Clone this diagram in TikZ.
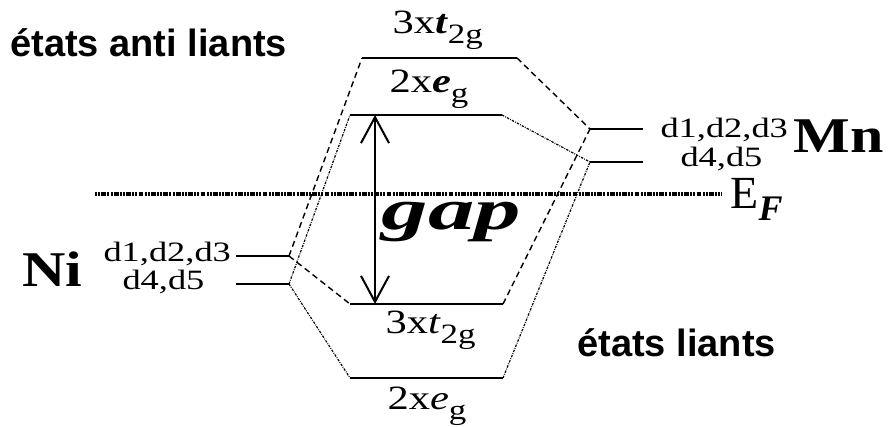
\documentclass[tikz,border=0pt]{standalone}
\usepackage{fontspec}
\setmainfont{Liberation Serif}
\setsansfont{Liberation Sans}
\usetikzlibrary{arrows.meta}

\tikzset{
    level/.style={line width=1.3pt},
    anti/.style={line width=0.7pt, dash pattern=on 3pt off 2pt},
    bond/.style={line width=0.6pt, dash pattern=on 1.2pt off 0.6pt on 0.4pt off 0.6pt},
    fermi/.style={line width=2.4pt, dash pattern=on 1pt off 0.6pt on 1pt off 0.6pt on 2.4pt off 0.6pt},
    lvllbl/.style={font=\fontsize{17}{18}\selectfont, xscale=1.25, anchor=base west, inner sep=0pt},
    dlbl/.style={font=\fontsize{14}{15}\selectfont, xscale=1.3, anchor=base west, inner sep=0pt},
    atom/.style={font=\fontsize{25}{26}\selectfont\bfseries, xscale=1.2, anchor=base west, inner sep=0pt},
    states/.style={font=\sffamily\bfseries\fontsize{19}{20}\selectfont, anchor=base west, inner sep=0pt}
}
\newcommand{\orb}[2]{#1\textbf{\textit{#2}}}

\begin{document}
\begin{tikzpicture}[x=0.5pt, y=-0.5pt]
    \useasboundingbox (0,0) rectangle (890,427);

    % Ni levels
    \coordinate (niAL) at (236,256); \coordinate (niAR) at (289,256);
    \coordinate (niBL) at (236,284); \coordinate (niBR) at (289,284);
    % Mn levels
    \coordinate (mnAL) at (590,129); \coordinate (mnAR) at (643,129);
    \coordinate (mnBL) at (590,162); \coordinate (mnBR) at (643,162);
    % antibonding levels
    \coordinate (atL) at (362,58);  \coordinate (atR) at (517,58);
    \coordinate (aeL) at (350,115); \coordinate (aeR) at (502,115);
    % bonding levels
    \coordinate (btL) at (350,304); \coordinate (btR) at (503,304);
    \coordinate (beL) at (350,378); \coordinate (beR) at (503,378);
    % Fermi level
    \coordinate (efL) at (95,194);  \coordinate (efR) at (722,194);

    \draw[fermi] (efL) -- (efR);
    \foreach \a/\b in {niAL/niAR, niBL/niBR, mnAL/mnAR, mnBL/mnBR, atL/atR, aeL/aeR, btL/btR, beL/beR}
        \draw[level] (\a) -- (\b);

    % t2g connections
    \draw[anti] (niAR) -- (atL);
    \draw[anti] (atR) -- (mnAL);
    \draw[anti] (niAR) -- (btL);
    \draw[anti] (btR) -- (mnAL);
    % eg connections
    \draw[bond] (niBR) -- (aeL);
    \draw[bond] (aeR) -- (mnBL);
    \draw[bond] (niBR) -- (beL);
    \draw[bond] (beR) -- (mnBL);

    % gap
    \coordinate (gapT) at (375,115); \coordinate (gapB) at (375,304);
    \draw[line width=1pt, {Straight Barb[length=13pt,width=14pt]}-{Straight Barb[length=13pt,width=14pt]}] (gapT) -- (gapB);
    \node[anchor=base west, inner sep=0pt, xscale=1.6, font=\fontsize{29}{30}\selectfont\bfseries\itshape] (gap) at (381,230) {gap};

    % labels
    \node[lvllbl] (atlbl) at (392,34) {\orb{3x}{t}\raisebox{-5pt}{\fontsize{14}{14}\selectfont 2g}};
    \node[lvllbl] (aelbl) at (389,93) {\orb{2x}{e}\raisebox{-5pt}{\fontsize{14}{14}\selectfont g}};
    \node[lvllbl] (btlbl) at (385,334) {3x\textit{t}\raisebox{-5pt}{\fontsize{14}{14}\selectfont 2g}};
    \node[lvllbl] (belbl) at (387,410) {2x\textit{e}\raisebox{-5pt}{\fontsize{14}{14}\selectfont g}};

    \node[dlbl] (mnA) at (660,138) {d1,d2,d3};
    \node[dlbl] (mnB) at (680,167) {d4,d5};
    \node[atom] (mn) at (793,153) {Mn};
    \node[dlbl] (niA) at (103,262) {d1,d2,d3};
    \node[dlbl] (niB) at (122,290) {d4,d5};
    \node[atom] (ni) at (22,287) {Ni};

    \node[anchor=base west, inner sep=0pt, font=\fontsize{23}{24}\selectfont] (ef) at (730,209)
        {E\raisebox{-6pt}{\fontsize{18}{18}\selectfont\textbf{\textit{F}}}};

    \node[states] (anti) at (10,57) {états anti liants};
    \node[states] (liants) at (577,357) {états liants};
\end{tikzpicture}
\end{document}
